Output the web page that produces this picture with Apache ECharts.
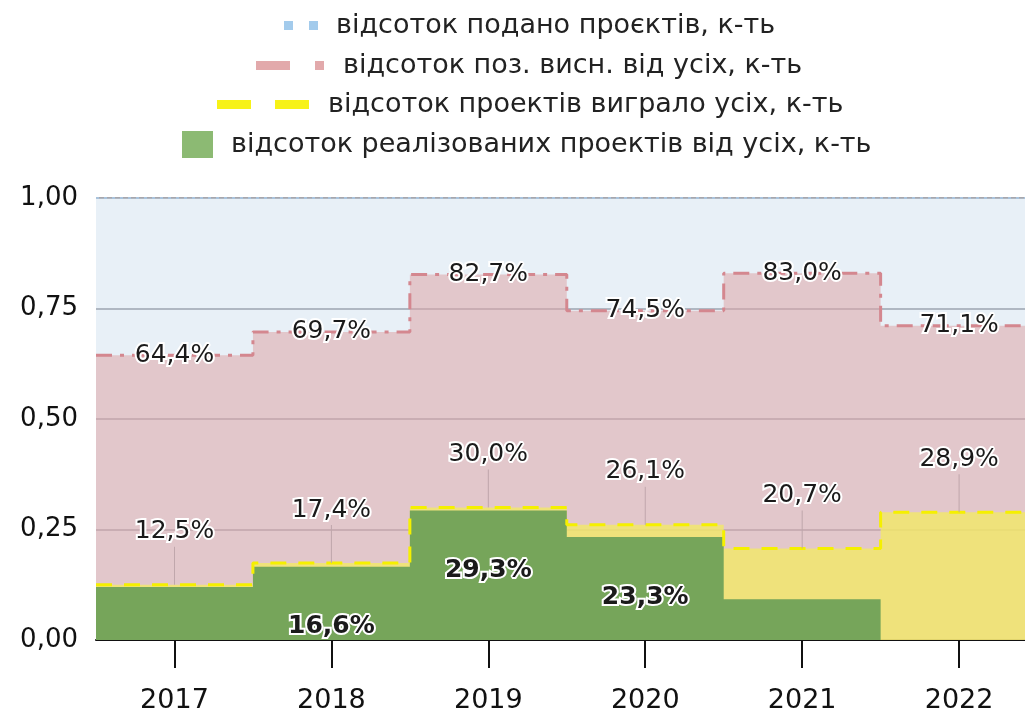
<!DOCTYPE html>
<html>
<head>
<meta charset="utf-8">
<script src="https://cdn.jsdelivr.net/npm/echarts@6/dist/echarts.min.js"></script>
<style>
  html, body { margin: 0; padding: 0; background: #fff; }
  #chart { width: 1025px; height: 714px; }
</style>
</head>
<body>
<div id="chart"></div>
<script>
// роки
const years = ['2017', '2018', '2019', '2020', '2021', '2022']
const yearIdx = [0, 1, 2, 3, 4, 5]
// частки (0..1)
const submitted = [1, 1, 1, 1, 1, 1]
const positive = [0.644, 0.697, 0.827, 0.745, 0.830, 0.711]
const won = [0.125, 0.174, 0.300, 0.261, 0.207, 0.289]
const realized = [0.12, 0.166, 0.293, 0.233, 0.092, 0]
const realizedLabel = [false, true, true, true, false, false]
const yTicks = [0, 0.25, 0.5, 0.75, 1]

const names = [
  'відсоток подано проєктів, к-ть',
  'відсоток поз. висн. від усіх, к-ть',
  'відсоток проектів виграло усіх, к-ть',
  'відсоток реалізованих проектів від усіх, к-ть'
]

const font = 'DejaVu Sans'
const pct = v => (v * 100).toFixed(1).replace('.', ',') + '%'

// кожне значення займає всю смугу року: [i-0.5, v], [i, v], [i+0.5, v]
function steps(arr, labelFn) {
  const out = []
  arr.forEach((v, i) => {
    out.push({value: [i - 0.5, v], label: {show: false}})
    const mid = {value: [i, v]}
    if (labelFn) mid.label = labelFn(i)
    out.push(mid)
    out.push({value: [i + 0.5, v], label: {show: false}})
  })
  return out
}

const textStyle = {
  fontFamily: font,
  fontSize: 25,
  color: '#1a1a1a',
  textBorderColor: '#fff',
  textBorderWidth: 4
}
const labelBase = Object.assign({formatter: p => pct(p.value[1])}, textStyle)

const chart = echarts.init(document.getElementById('chart'))

function legendRow(name, left, top, icon, w, h, color, pad) {
  return {
    data: [{name: name, icon: icon, itemStyle: {color: color, borderWidth: 0}}],
    left: left,
    top: top,
    itemWidth: w,
    itemHeight: h,
    textStyle: {fontFamily: font, fontSize: 27, color: '#222', padding: [0, 0, 0, pad]}
  }
}

chart.setOption({
  animation: false,
  legend: [
    legendRow(names[0], 279, 7, 'path://M0,0h9v9h-9z M25,0h9v9h-9z', 34, 9, '#a3cbec', 13),
    legendRow(names[1], 251, 47, 'path://M0,0h34v9h-34z M59,0h9v9h-9z', 68, 9, '#e2a9ab', 14),
    legendRow(names[2], 212, 86, 'path://M0,0h34v9h-34z M58,0h34v9h-34z', 92, 9, '#f7f218', 14),
    legendRow(names[3], 177, 126, 'rect', 31, 27, '#8cba73', 13)
  ],
  grid: {left: 96, right: 0, top: 198, bottom: 71},
  xAxis: {
    type: 'value',
    min: -0.5,
    max: 5.42,
    axisLine: {lineStyle: {color: '#111', width: 2}},
    axisTick: {customValues: yearIdx, length: 28, lineStyle: {color: '#111', width: 2}},
    axisLabel: {
      customValues: yearIdx,
      fontFamily: font, fontSize: 27, color: '#111', margin: 47,
      formatter: v => years[v]
    },
    splitLine: {show: false}
  },
  yAxis: {
    type: 'value',
    min: yTicks[0],
    max: yTicks[yTicks.length - 1],
    interval: 0.25,
    axisLine: {show: false},
    axisTick: {show: false},
    axisLabel: {
      fontFamily: font, fontSize: 26, color: '#111', margin: 18,
      formatter: v => v.toFixed(2).replace('.', ',')
    },
    splitLine: {lineStyle: {color: '#8a8a92', width: 1.5}}
  },
  series: [
    {
      name: names[0],
      type: 'line',
      symbol: 'none',
      data: steps(submitted),
      lineStyle: {color: '#a9c3dc', width: 2, type: [3, 5]},
      areaStyle: {color: 'rgba(189,212,232,0.35)', opacity: 1}
    },
    {
      name: names[1],
      type: 'line',
      symbol: 'circle',
      symbolSize: 0,
      data: steps(positive, () => ({show: true})),
      lineStyle: {color: '#d4878f', width: 3, type: [16, 8, 4, 8]},
      itemStyle: {color: '#d4878f'},
      areaStyle: {color: 'rgba(223,165,167,0.55)', opacity: 1},
      label: Object.assign({position: 'inside'}, labelBase)
    },
    {
      name: names[2],
      type: 'line',
      symbol: 'circle',
      symbolSize: 0,
      data: steps(won, () => ({show: true})),
      lineStyle: {color: '#f5f000', width: 3, type: [16, 12]},
      itemStyle: {color: '#f5f000'},
      areaStyle: {color: 'rgba(243,233,102,0.8)', opacity: 1},
      // підпис над точкою з тонкою вертикальною виноскою
      label: {
        position: 'top',
        distance: 0,
        formatter: p => '{t|' + pct(p.value[1]) + '}\n{l|}',
        rich: {
          t: Object.assign({lineHeight: 30}, textStyle),
          l: {width: 1, height: 38, backgroundColor: '#bfa6ab'}
        }
      }
    },
    {
      name: names[3],
      type: 'line',
      symbol: 'circle',
      symbolSize: 0,
      data: steps(realized, i => ({show: realizedLabel[i]})),
      lineStyle: {width: 0, color: '#76a55a'},
      itemStyle: {color: '#76a55a'},
      areaStyle: {color: '#76a55a', opacity: 1},
      label: Object.assign({}, labelBase, {position: 'inside', offset: [0, 60], fontWeight: 'bold'})
    }
  ]
})
</script>
</body>
</html>
